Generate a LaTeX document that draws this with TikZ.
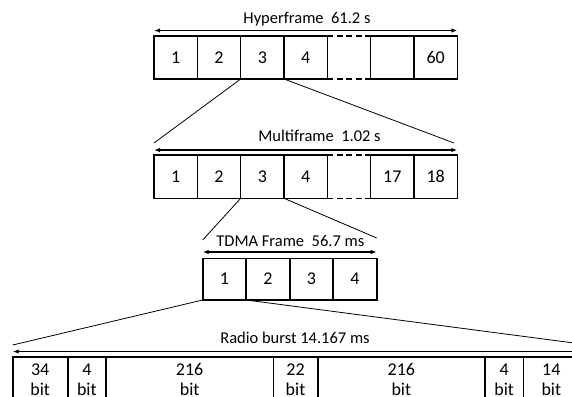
\documentclass[tikz,border=0pt]{standalone}
\usepackage{fontspec}
\setmainfont{Carlito}[Numbers=Lining]
\usetikzlibrary{arrows.meta}
\begin{document}
\begin{tikzpicture}[x=1pt,y=-1pt,
  cell/.style={draw, line width=1.6pt, inner sep=0pt, outer sep=0pt, anchor=north west,
    font=\fontsize{18}{19.5}\selectfont, align=center},
  gapcell/.style={inner sep=0pt, outer sep=0pt, anchor=north west},
  dashedge/.style={line width=1.6pt, dash pattern=on 6pt off 3.5pt},
  link/.style={line width=0.8pt},
  span/.style={line width=1.3pt, {Latex[length=6pt,width=4.5pt]}-{Latex[length=6pt,width=4.5pt]}},
  lbl/.style={font=\fontsize{16.5}{19}\selectfont, anchor=base, inner sep=0pt},
]
\useasboundingbox (0,0) rectangle (572,396);
\clip (0,0) rectangle (572,396);

% Hyperframe
\foreach \i/\t in {1/1,2/2,3/3,4/4,6/,7/60}
  \node[cell, minimum width=43.33pt, minimum height=43pt] (H\i) at ({154+43.33*(\i-1)},36) {\t};
\node[gapcell, minimum width=43.33pt, minimum height=43pt] (H5) at ({154+43.33*4},36) {};
\draw[dashedge] (H5.north west) -- (H5.north east);
\draw[dashedge] (H5.south west) -- (H5.south east);
\draw[span] ([yshift=5.5pt]H1.north west) -- ([yshift=5.5pt]H7.north east);
\node[lbl] (Hl) at (307,23.3) {Hyperframe\ \ 61.2 s};

% Multiframe
\foreach \i/\t in {1/1,2/2,3/3,4/4,6/17,7/18}
  \node[cell, minimum width=43.33pt, minimum height=43.3pt] (M\i) at ({154+43.33*(\i-1)},155) {\t};
\node[gapcell, minimum width=43.33pt, minimum height=43.3pt] (M5) at ({154+43.33*4},155) {};
\draw[dashedge] (M5.north west) -- (M5.north east);
\draw[dashedge] (M5.south west) -- (M5.south east);
\draw[span] ([yshift=5pt]M1.north west) -- ([yshift=5pt]M7.north east);
\node[lbl] (Ml) at (319.5,141.7) {Multiframe\ \ 1.02 s};

\coordinate (h3end) at (154,143);
\coordinate (h4end) at (454,143);
\draw[link] (H3.south west) -- (h3end);
\draw[link] (H4.south west) -- (h4end);

% TDMA frame
\foreach \i in {1,2,3,4}
  \node[cell, minimum width=43.5pt, minimum height=41.7pt] (T\i) at ({202.7+43.5*(\i-1)},258.3) {\i};
\draw[span] ([yshift=6.3pt]T1.north west) -- ([yshift=6.3pt]T4.north east);
\node[lbl] (Tl) at (290.3,246.7) {TDMA Frame\ \ 56.7 ms};

\coordinate (m3end) at (202.7,240);
\coordinate (m4end) at (376.7,238);
\draw[link] (M3.south west) -- (m3end);
\draw[link] (M4.south west) -- (m4end);

% Radio burst
\foreach \i/\x/\w/\t in {1/12.7/55/34,2/67.7/38.3/4,3/106/167.3/216,4/273.3/44.4/22,5/317.7/167.3/216,6/485/38.3/4,7/523.3/56/14}
  \node[cell, minimum width=\w pt, minimum height=46pt] (R\i) at (\x,356.7) {\t\\bit};
\draw[span] ([yshift=5.2pt]R1.north west) -- ([yshift=5.2pt]R7.north east);
\node[lbl] (Rl) at (295,343.3) {Radio burst 14.167 ms};

\coordinate (t1end) at (12.7,345);
\coordinate (t2end) at (574,343);
\draw[link] (T1.south west) -- (t1end);
\draw[link] (T2.south west) -- (t2end);
\end{tikzpicture}
\end{document}
